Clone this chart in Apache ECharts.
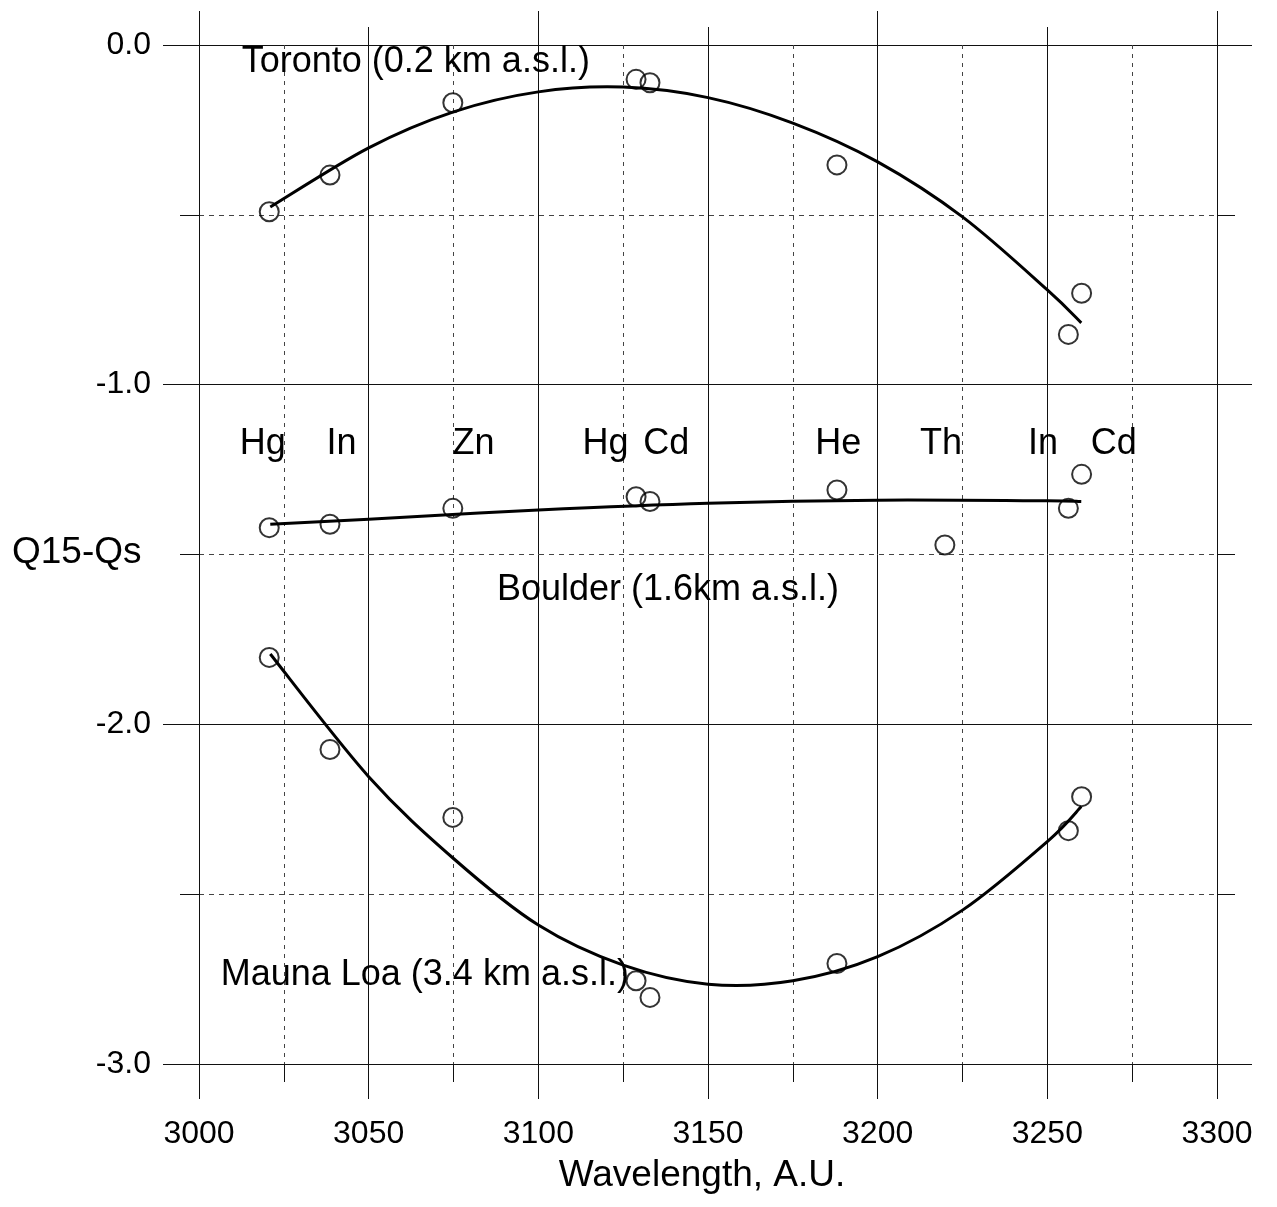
<!DOCTYPE html>
<html>
<head>
<meta charset="utf-8">
<script src="https://cdn.jsdelivr.net/npm/echarts@6/dist/echarts.min.js"></script>
<style>
html,body{margin:0;padding:0;background:#fff;}
#chart{width:1277px;height:1207px;}
</style>
</head>
<body>
<div id="chart"></div>
<script>
// ---- data ----
const xTicks = [3000, 3050, 3100, 3150, 3200, 3250, 3300];
const yTicks = [-3.0, -2.0, -1.0, 0.0];

// calibration-line wavelengths of the measured points (Å)
const lineWavelengths = [3020.7, 3038.6, 3074.8, 3128.8, 3132.9, 3188.0, 3256.2, 3260.1];
const boulderWavelengths = [3020.7, 3038.6, 3074.8, 3128.8, 3132.9, 3188.0, 3219.8, 3256.2, 3260.1];

const torontoQ = [-0.491, -0.383, -0.170, -0.101, -0.111, -0.353, -0.852, -0.731];
const boulderQ = [-1.421, -1.411, -1.364, -1.330, -1.344, -1.310, -1.472, -1.364, -1.264];
const maunaLoaQ = [-1.803, -2.074, -2.274, -2.755, -2.804, -2.704, -2.313, -2.213];

// fitted curves
const torontoFitX = [3021, 3050, 3075, 3100, 3125, 3150, 3175, 3200, 3225, 3250, 3260];
const torontoFitY = [-0.477, -0.303, -0.197, -0.138, -0.124, -0.155, -0.230, -0.344, -0.506, -0.721, -0.818];
const boulderFitX = [3021, 3050, 3100, 3150, 3200, 3250, 3260];
const boulderFitY = [-1.411, -1.396, -1.369, -1.349, -1.340, -1.342, -1.344];
const maunaLoaFitX = [3021, 3050, 3075, 3100, 3125, 3150, 3175, 3200, 3225, 3250, 3260];
const maunaLoaFitY = [-1.793, -2.154, -2.395, -2.591, -2.709, -2.765, -2.755, -2.684, -2.547, -2.345, -2.242];

// text annotations (data coordinates)
const elementNames = ['Hg', 'In', 'Zn', 'Hg', 'Cd', 'He', 'Th', 'In', 'Cd'];
const elementLabelX = [3018.8, 3042.0, 3080.9, 3119.8, 3137.7, 3188.4, 3218.7, 3248.7, 3269.6];
const elementLabelY = [-1.176, -1.176, -1.176, -1.176, -1.176, -1.176, -1.176, -1.176, -1.176];

const stationNames = ['Toronto (0.2 km a.s.l.)', 'Boulder (1.6km a.s.l.)', 'Mauna Loa (3.4 km a.s.l.)'];
const stationLabelX = [3012.6, 3087.8, 3006.4];
const stationLabelY = [-0.049, -1.605, -2.738];

const xTitle = 'Wavelength, A.U.';
const yTitle = 'Q15-Qs';

// ---- build ----
const zip = (xs, ys) => xs.map((x, i) => [x, ys[i]]);
const curves = [zip(torontoFitX, torontoFitY), zip(boulderFitX, boulderFitY), zip(maunaLoaFitX, maunaLoaFitY)];
const FONT = 'Liberation Sans, Arial, sans-serif';
const solid = '#111';
const dashC = '#444';

const markerStyle = {
  type: 'scatter', symbol: 'circle', symbolSize: 19,
  itemStyle: { color: 'rgba(0,0,0,0)', borderColor: '#000', borderWidth: 2 },
  z: 5, silent: true
};

// Catmull-Rom spline through the read curve points, positioned by the axes
function renderCurve(params, api) {
  const idx = api.value(2);
  const pts = curves[idx].map(p => api.coord(p));
  let d = 'M' + pts[0][0] + ' ' + pts[0][1];
  for (let i = 0; i < pts.length - 1; i++) {
    const p0 = pts[Math.max(i - 1, 0)], p1 = pts[i], p2 = pts[i + 1], p3 = pts[Math.min(i + 2, pts.length - 1)];
    const c1x = p1[0] + (p2[0] - p0[0]) / 6, c1y = p1[1] + (p2[1] - p0[1]) / 6;
    const c2x = p2[0] - (p3[0] - p1[0]) / 6, c2y = p2[1] - (p3[1] - p1[1]) / 6;
    d += ' C' + c1x + ' ' + c1y + ' ' + c2x + ' ' + c2y + ' ' + p2[0] + ' ' + p2[1];
  }
  return { type: 'path', shape: { pathData: d }, style: { stroke: '#000', lineWidth: 3, fill: null, lineCap: 'butt' } };
}

const chart = echarts.init(document.getElementById('chart'), null, { renderer: 'canvas' });
chart.setOption({
  animation: false,
  backgroundColor: '#fff',
  grid: { left: 199, right: 60, top: 45, bottom: 143, containLabel: false },
  xAxis: [
    {
      type: 'value', position: 'bottom', min: xTicks[0], max: xTicks[xTicks.length - 1], interval: 50,
      axisLine: { show: true, onZero: false, lineStyle: { color: solid, width: 1 } },
      axisTick: { show: true, inside: false, length: 35, lineStyle: { color: solid, width: 1 } },
      minorTick: { show: true, splitNumber: 2, length: 18, lineStyle: { color: solid, width: 1 } },
      splitLine: { show: true, lineStyle: { color: solid, width: 1 } },
      minorSplitLine: { show: true, lineStyle: { color: dashC, width: 1, type: [4, 5] } },
      axisLabel: { fontSize: 32, fontFamily: FONT, color: '#000', margin: 54, formatter: v => String(v) }
    },
    {
      type: 'value', position: 'top', min: 3000, max: 3300, interval: 100,
      axisLine: { show: false },
      axisTick: { show: true, inside: false, length: 34, lineStyle: { color: solid, width: 1 } },
      axisLabel: { show: false }, splitLine: { show: false }
    },
    {
      type: 'value', position: 'top', min: 3000, max: 3300, interval: 50,
      axisLine: { show: false },
      axisTick: { show: true, inside: false, length: 18, lineStyle: { color: solid, width: 1 } },
      axisLabel: { show: false }, splitLine: { show: false }
    }
  ],
  yAxis: [
    {
      type: 'value', position: 'left', min: yTicks[0], max: yTicks[yTicks.length - 1], interval: 1,
      axisLine: { show: true, onZero: false, lineStyle: { color: solid, width: 1 } },
      axisTick: { show: true, inside: false, length: 36, lineStyle: { color: solid, width: 1 } },
      minorTick: { show: true, splitNumber: 2, length: 19, lineStyle: { color: solid, width: 1 } },
      splitLine: { show: true, lineStyle: { color: solid, width: 1 } },
      minorSplitLine: { show: true, lineStyle: { color: dashC, width: 1, type: [5, 5] } },
      axisLabel: { fontSize: 32, fontFamily: FONT, color: '#000', margin: 48,
        formatter: v => (Math.abs(v) < 1e-9 ? 0 : v).toFixed(1) }
    },
    {
      type: 'value', position: 'right', min: -3, max: 0, interval: 1,
      axisLine: { show: false },
      axisTick: { show: true, inside: false, length: 35, lineStyle: { color: solid, width: 1 } },
      minorTick: { show: true, splitNumber: 2, length: 18, lineStyle: { color: solid, width: 1 } },
      axisLabel: { show: false }, splitLine: { show: false }
    }
  ],
  graphic: [
    { type: 'text', x: 12, y: 553, style: { text: yTitle, fontSize: 37, fontFamily: FONT, fill: '#000', align: 'left', verticalAlign: 'middle' } },
    { type: 'text', x: 702, y: 1176, style: { text: xTitle, fontSize: 37, fontFamily: FONT, fill: '#000', align: 'center', verticalAlign: 'middle' } }
  ],
  series: [
    {
      name: 'fits', type: 'custom', coordinateSystem: 'cartesian2d', silent: true, z: 4, clip: false,
      data: curves.map((c, i) => [c[0][0], c[0][1], i]),
      encode: { x: 0, y: 1 },
      renderItem: renderCurve
    },
    Object.assign({ name: 'Toronto', data: zip(lineWavelengths, torontoQ) }, markerStyle),
    Object.assign({ name: 'Boulder', data: zip(boulderWavelengths, boulderQ) }, markerStyle),
    Object.assign({ name: 'Mauna Loa', data: zip(lineWavelengths, maunaLoaQ) }, markerStyle),
    {
      name: 'elements', type: 'scatter', symbolSize: 0, itemStyle: { color: '#000', opacity: 1 }, silent: true, z: 6,
      data: elementNames.map((n, i) => ({ value: [elementLabelX[i], elementLabelY[i]], name: n })),
      label: { show: true, position: 'inside', formatter: p => p.name, fontSize: 36, fontFamily: FONT, color: '#000', opacity: 1 }
    },
    {
      name: 'stations', type: 'scatter', symbolSize: 0, itemStyle: { color: '#000', opacity: 1 }, silent: true, z: 6,
      data: stationNames.map((n, i) => ({ value: [stationLabelX[i], stationLabelY[i]], name: n })),
      label: { show: true, position: 'right', distance: 0, align: 'left', verticalAlign: 'middle',
        formatter: p => p.name, fontSize: 36, fontFamily: FONT, color: '#000', opacity: 1 }
    }
  ]
});
</script>
</body>
</html>
